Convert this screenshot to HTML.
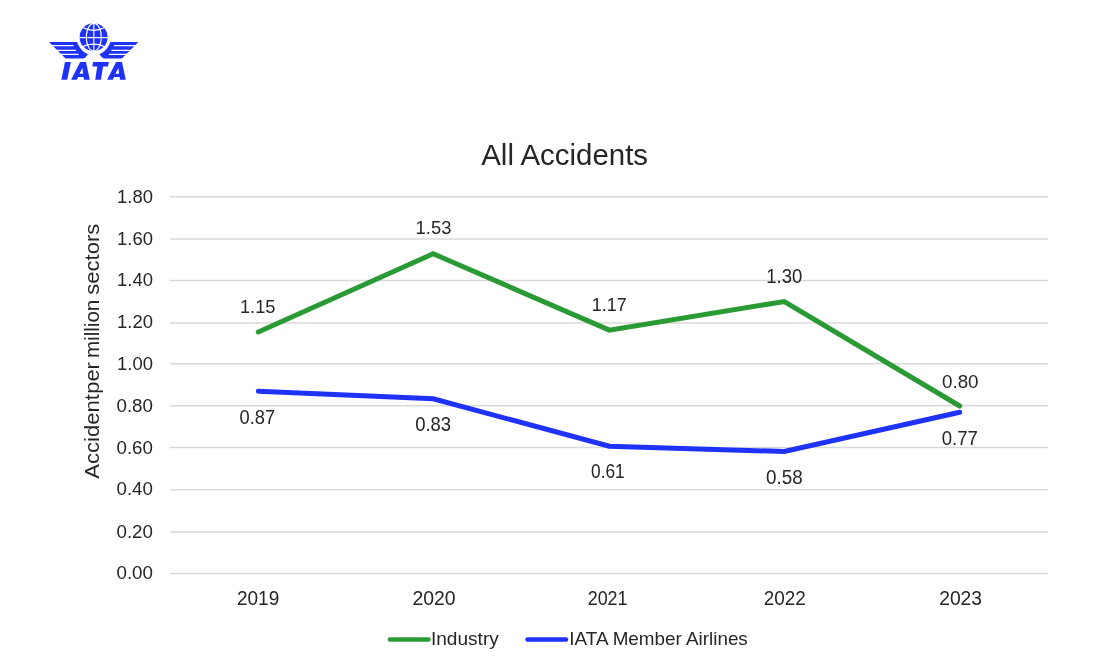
<!DOCTYPE html>
<html><head><meta charset="utf-8">
<style>
html,body{margin:0;padding:0;background:#fff;width:1098px;height:657px;overflow:hidden}
svg{position:absolute;left:0;top:0;display:block;will-change:transform}
text{font-family:"Liberation Sans",sans-serif;fill:#262626}
</style></head>
<body>
<svg width="1098" height="657" viewBox="0 0 1098 657">
<g fill="#1e32fa">
  <circle cx="93.6" cy="37.2" r="14"/>
  <path d="M49 42.1 L77 42.1 C79 48 83 52 88 54.3 L85.5 57.3 Q84.5 58.6 82.5 58.6 L66.8 58.6 Q65.8 58.6 65 57.9 Z"/>
  <path d="M138.4 42.1 L110.4 42.1 C108.4 48 104.4 52 99.4 54.3 L101.9 57.3 Q102.9 58.6 104.9 58.6 L120.6 58.6 Q121.6 58.6 122.4 57.9 Z"/>
  <path d="M65 62.1 L70.9 62.1 L67.2 79.8 L61.35 79.8 Z"/>
  <path fill-rule="evenodd" d="M80.1 62.1 L86 62.1 L89.8 79.8 L84 79.8 L83.6 77 L78.1 77 L76.75 79.8 L71.06 79.8 Z M82.4 68 L83.1 73.8 L79.4 73.8 Z"/>
  <path d="M93.1 62.1 L108.9 62.1 L108 66.4 L103.1 66.4 L100.9 79.8 L95.2 79.8 L97.2 66.4 L92.25 66.4 Z"/>
  <path fill-rule="evenodd" transform="translate(36,0)" d="M80.1 62.1 L86 62.1 L89.8 79.8 L84 79.8 L83.6 77 L78.1 77 L76.75 79.8 L71.06 79.8 Z M82.4 68 L83.1 73.8 L79.4 73.8 Z"/>
</g>
<g stroke="#fff" fill="none" stroke-width="1.15">
  <line x1="79" y1="37.6" x2="109" y2="37.6"/>
  <line x1="93.8" y1="23" x2="93.8" y2="51"/>
  <ellipse cx="93.8" cy="37.2" rx="7.5" ry="13.9"/>
  <path d="M83.2 27.8 Q94 32.8 104 27.8"/>
  <path d="M83 46.4 Q94 41.8 104.2 46.4"/>
  <line x1="45" y1="45.7" x2="73" y2="45.7" stroke-linecap="round" stroke-width="1.3"/>
  <line x1="45" y1="50.3" x2="75.6" y2="50.3" stroke-linecap="round" stroke-width="1.3"/>
  <line x1="45" y1="54.4" x2="77.9" y2="54.4" stroke-linecap="round" stroke-width="1.3"/>
  <line x1="114.4" y1="45.7" x2="142" y2="45.7" stroke-linecap="round" stroke-width="1.3"/>
  <line x1="111.8" y1="50.3" x2="142" y2="50.3" stroke-linecap="round" stroke-width="1.3"/>
  <line x1="109.5" y1="54.4" x2="142" y2="54.4" stroke-linecap="round" stroke-width="1.3"/>
</g>
<g stroke="#d9d9d9" stroke-width="1.5">
  <line x1="170" x2="1048" y1="196.70" y2="196.70"/>
  <line x1="170" x2="1048" y1="238.90" y2="238.90"/>
  <line x1="170" x2="1048" y1="280.40" y2="280.40"/>
  <line x1="170" x2="1048" y1="322.90" y2="322.90"/>
  <line x1="170" x2="1048" y1="363.85" y2="363.85"/>
  <line x1="170" x2="1048" y1="405.85" y2="405.85"/>
  <line x1="170" x2="1048" y1="447.40" y2="447.40"/>
  <line x1="170" x2="1048" y1="489.75" y2="489.75"/>
  <line x1="170" x2="1048" y1="531.90" y2="531.90"/>
  <line x1="170" x2="1048" y1="573.45" y2="573.45"/>
</g>
<polyline fill="none" stroke="#2a9a34" stroke-width="5" stroke-linecap="round" stroke-linejoin="miter" points="258.30,332.00 433.20,253.80 609.30,330.10 784.30,301.50 959.70,406.00"/>
<polyline fill="none" stroke="#1e32fa" stroke-width="5" stroke-linecap="round" stroke-linejoin="miter" points="258.30,391.25 433.20,398.80 609.30,446.25 784.30,451.50 959.70,412.30"/>
<line x1="390" y1="639.6" x2="428.5" y2="639.6" stroke="#2a9a34" stroke-width="4.5" stroke-linecap="round"/>
<line x1="527.5" y1="639.6" x2="566" y2="639.6" stroke="#1e32fa" stroke-width="4.5" stroke-linecap="round"/>
<text x="481.24" y="164.50" font-size="28.95" textLength="166.84" lengthAdjust="spacingAndGlyphs">All Accidents</text>
<text x="117.02" y="202.50" font-size="19.04" textLength="35.90" lengthAdjust="spacingAndGlyphs">1.80</text>
<text x="117.02" y="244.78" font-size="19.04" textLength="35.90" lengthAdjust="spacingAndGlyphs">1.60</text>
<text x="117.02" y="286.06" font-size="19.04" textLength="35.90" lengthAdjust="spacingAndGlyphs">1.40</text>
<text x="117.02" y="328.34" font-size="19.04" textLength="35.90" lengthAdjust="spacingAndGlyphs">1.20</text>
<text x="117.02" y="369.62" font-size="19.04" textLength="35.90" lengthAdjust="spacingAndGlyphs">1.00</text>
<text x="116.46" y="411.90" font-size="19.12" textLength="36.54" lengthAdjust="spacingAndGlyphs">0.80</text>
<text x="116.46" y="454.18" font-size="19.18" textLength="36.53" lengthAdjust="spacingAndGlyphs">0.60</text>
<text x="116.47" y="495.46" font-size="19.04" textLength="36.51" lengthAdjust="spacingAndGlyphs">0.40</text>
<text x="116.46" y="537.74" font-size="19.13" textLength="36.53" lengthAdjust="spacingAndGlyphs">0.20</text>
<text x="116.45" y="579.02" font-size="19.22" textLength="36.54" lengthAdjust="spacingAndGlyphs">0.00</text>
<text x="236.90" y="604.50" font-size="19.50" textLength="42.36" lengthAdjust="spacingAndGlyphs">2019</text>
<text x="412.53" y="604.50" font-size="19.57" textLength="43.15" lengthAdjust="spacingAndGlyphs">2020</text>
<text x="587.66" y="604.50" font-size="19.55" textLength="39.92" lengthAdjust="spacingAndGlyphs">2021</text>
<text x="763.64" y="604.50" font-size="19.58" textLength="42.08" lengthAdjust="spacingAndGlyphs">2022</text>
<text x="939.17" y="604.50" font-size="19.57" textLength="42.92" lengthAdjust="spacingAndGlyphs">2023</text>
<text x="239.98" y="313.00" font-size="18.75" textLength="35.52" lengthAdjust="spacingAndGlyphs">1.15</text>
<text x="415.61" y="234.00" font-size="19.05" textLength="35.78" lengthAdjust="spacingAndGlyphs">1.53</text>
<text x="591.68" y="311.00" font-size="18.49" textLength="35.01" lengthAdjust="spacingAndGlyphs">1.17</text>
<text x="766.30" y="283.00" font-size="19.35" textLength="36.02" lengthAdjust="spacingAndGlyphs">1.30</text>
<text x="941.96" y="388.00" font-size="19.12" textLength="36.63" lengthAdjust="spacingAndGlyphs">0.80</text>
<text x="239.53" y="424.04" font-size="19.37" textLength="35.52" lengthAdjust="spacingAndGlyphs">0.87</text>
<text x="415.18" y="431.03" font-size="19.76" textLength="35.97" lengthAdjust="spacingAndGlyphs">0.83</text>
<text x="591.07" y="478.00" font-size="19.72" textLength="33.65" lengthAdjust="spacingAndGlyphs">0.61</text>
<text x="765.95" y="484.00" font-size="19.32" textLength="36.67" lengthAdjust="spacingAndGlyphs">0.58</text>
<text x="941.68" y="445.00" font-size="19.32" textLength="36.15" lengthAdjust="spacingAndGlyphs">0.77</text>
<text x="430.98" y="644.53" font-size="17.97" textLength="67.81" lengthAdjust="spacingAndGlyphs">Industry</text>
<text x="569.38" y="644.50" font-size="18.07" textLength="178.43" lengthAdjust="spacingAndGlyphs">IATA Member Airlines</text>
<text transform="translate(98.50,478.67) rotate(-90)" font-size="19.37" textLength="84.58" lengthAdjust="spacingAndGlyphs">Accident</text>
<text transform="translate(98.50,393.65) rotate(-90)" font-size="19.37" textLength="31.47" lengthAdjust="spacingAndGlyphs">per</text>
<text transform="translate(98.50,358.10) rotate(-90)" font-size="19.37" textLength="58.41" lengthAdjust="spacingAndGlyphs">million</text>
<text transform="translate(98.50,294.68) rotate(-90)" font-size="19.37" textLength="70.97" lengthAdjust="spacingAndGlyphs">sectors</text>
</svg>
</body></html>
